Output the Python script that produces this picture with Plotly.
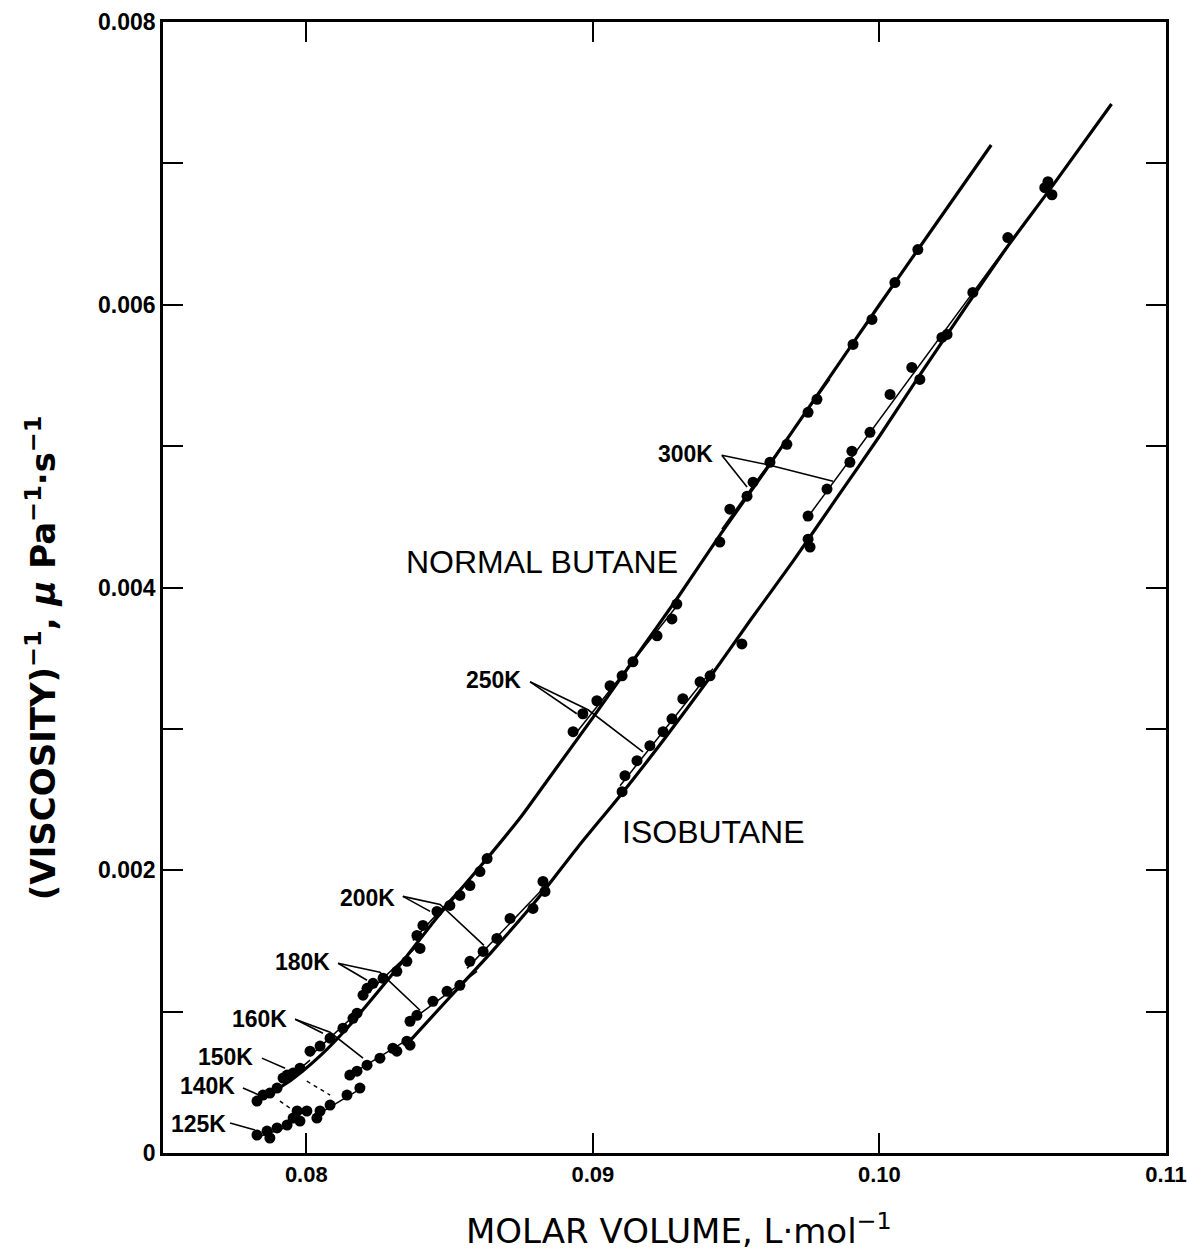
import plotly.graph_objects as go

# ---------------- data ----------------
# smooth correlation curves (molar volume L/mol, inverse viscosity 1/(uPa s))
nb_curve_vol = [0.0785, 0.0795, 0.0805, 0.0815, 0.0825, 0.0835, 0.0845, 0.0855, 0.0865,
                0.0875, 0.0885, 0.0900, 0.0915, 0.0930, 0.0945, 0.0960, 0.0980, 0.1000,
                0.1020, 0.1039]
nb_curve_fl = [0.00039, 0.00052, 0.00069, 0.00090, 0.00114, 0.00139, 0.00165, 0.00189, 0.00213,
               0.00238, 0.00266, 0.00308, 0.00351, 0.00394, 0.00439, 0.00482, 0.00541, 0.00600,
               0.00658, 0.00713]

ib_curve_vol = [0.0836, 0.0850, 0.0865, 0.0880, 0.0895, 0.0910, 0.0925, 0.0940, 0.0955,
                0.0970, 0.0985, 0.1000, 0.1015, 0.1030, 0.1045, 0.1060, 0.1081]
ib_curve_fl = [0.00079, 0.00110, 0.00143, 0.00178, 0.00217, 0.00254, 0.00293, 0.00334, 0.00377,
               0.00419, 0.00463, 0.00507, 0.00553, 0.00598, 0.00642, 0.00683, 0.00742]

# measured points, normal butane
nb_pt_temp = (["140K"] * 4 + ["150K"] * 4 + ["160K"] * 6 + ["180K"] * 7 + ["200K"] * 8
              + ["250K"] * 9 + ["300K"] * 12)
nb_pt_vol = [0.07828, 0.07849, 0.07873, 0.07898,
             0.07919, 0.07933, 0.07954, 0.07978,
             0.08013, 0.08048, 0.08083, 0.08128, 0.08163, 0.08177,
             0.08198, 0.08212, 0.08233, 0.08268, 0.08316, 0.08351, 0.08397,
             0.08386, 0.08407, 0.08456, 0.08501, 0.08536, 0.08571, 0.08606, 0.08631,
             0.08931, 0.08965, 0.09014, 0.09060, 0.09102, 0.09140, 0.09224, 0.09276, 0.09293,
             0.09443, 0.09478, 0.09538, 0.09559, 0.09618, 0.09677, 0.09751, 0.09782, 0.09908,
             0.09974, 0.10054, 0.10134]
nb_pt_fl = [0.000367, 0.000410, 0.000424, 0.000459,
            0.000530, 0.000551, 0.000565, 0.000600,
            0.000720, 0.000756, 0.000812, 0.000883, 0.000953, 0.000989,
            0.001116, 0.001165, 0.001200, 0.001236, 0.001285, 0.001356, 0.001447,
            0.001539, 0.001610, 0.001709, 0.001751, 0.001822, 0.001892, 0.001991, 0.002083,
            0.002980, 0.003107, 0.003199, 0.003305, 0.003375, 0.003474, 0.003658, 0.003778, 0.003883,
            0.004321, 0.004554, 0.004646, 0.004745, 0.004886, 0.005013, 0.005239, 0.005331, 0.005719,
            0.005896, 0.006157, 0.006390]

# measured points, isobutane
ib_pt_temp = (["125K"] * 5 + ["140K"] * 4 + ["150K"] * 5 + ["160K"] * 8 + ["180K"] * 5
              + ["200K"] * 7 + ["250K"] * 9 + ["300K"] * 18)
ib_pt_vol = [0.07828, 0.07863, 0.07873, 0.07898, 0.07933,
             0.07954, 0.07968, 0.07978, 0.08002,
             0.08037, 0.08048, 0.08083, 0.08142, 0.08187,
             0.08152, 0.08177, 0.08212, 0.08257, 0.08302, 0.08316, 0.08351, 0.08362,
             0.08362, 0.08386, 0.08442, 0.08491, 0.08536,
             0.08571, 0.08617, 0.08665, 0.08711, 0.08791, 0.08826, 0.08833,
             0.09102, 0.09112, 0.09154, 0.09199, 0.09245, 0.09276, 0.09314, 0.09374, 0.09409,
             0.09520, 0.09751, 0.09758, 0.09751, 0.09817, 0.09897, 0.09904, 0.09967, 0.10037,
             0.10113, 0.10141, 0.10236, 0.10218, 0.10326, 0.10448, 0.10577, 0.10588, 0.10602]
ib_pt_fl = [0.000127, 0.000155, 0.000106, 0.000177, 0.000198,
            0.000247, 0.000297, 0.000226, 0.000297,
            0.000247, 0.000297, 0.000339, 0.000410, 0.000459,
            0.000551, 0.000579, 0.000621, 0.000671, 0.000741, 0.000720, 0.000791, 0.000763,
            0.000932, 0.000974, 0.001073, 0.001144, 0.001186,
            0.001356, 0.001426, 0.001518, 0.001659, 0.001730, 0.001921, 0.001850,
            0.002556, 0.002669, 0.002775, 0.002881, 0.002980, 0.003071, 0.003213, 0.003333, 0.003375,
            0.003601, 0.004342, 0.004286, 0.004505, 0.004696, 0.004886, 0.004964, 0.005098, 0.005366,
            0.005557, 0.005472, 0.005790, 0.005769, 0.006087, 0.006475, 0.006828, 0.006870, 0.006778]

# thin isotherm segments (start / end)
nb_iso_temp = ["150K", "160K", "180K", "200K", "250K", "300K"]
nb_iso_vol0 = [0.07919, 0.08013, 0.08194, 0.08372, 0.08931, 0.09450]
nb_iso_vol1 = [0.08013, 0.08187, 0.08397, 0.08641, 0.09304, 0.09827]
nb_iso_fl0 = [0.000494, 0.000685, 0.001094, 0.001504, 0.002944, 0.004413]
nb_iso_fl1 = [0.000657, 0.001010, 0.001483, 0.002097, 0.003898, 0.005472]

ib_iso_temp = ["125K", "140K", "150K", "160K", "180K", "200K", "250K", "300K"]
ib_iso_vol0 = [0.07821, 0.07943, 0.08030, 0.08135, 0.08362, 0.08561, 0.09095, 0.09740]
ib_iso_vol1 = [0.07943, 0.08013, 0.08205, 0.08362, 0.08596, 0.08833, 0.09419, 0.10462]
ib_iso_fl0 = [0.000106, 0.000233, 0.000261, 0.000530, 0.000932, 0.001306, 0.002598, 0.004470]
ib_iso_fl1 = [0.000191, 0.000318, 0.000473, 0.000812, 0.001285, 0.001885, 0.003425, 0.006461]

# axis ticks
x_tick_vals = [0.08, 0.09, 0.10, 0.11]
x_tick_text = ["0.08", "0.09", "0.10", "0.11"]
y_tick_vals = [0, 0.001, 0.002, 0.003, 0.004, 0.005, 0.006, 0.007, 0.008]
y_tick_text = ["0", "", "0.002", "", "0.004", "", "0.006", "", "0.008"]

# ---------------- figure ----------------
FONT = "Liberation Sans"
WIDE = "DejaVu Sans"
fig = go.Figure()


def seg_xy(v0, v1, f0, f1):
    xs, ys = [], []
    for a, b, c, d in zip(v0, v1, f0, f1):
        xs += [a, b, None]
        ys += [c, d, None]
    return xs, ys


for v0, v1, f0, f1 in [(nb_iso_vol0, nb_iso_vol1, nb_iso_fl0, nb_iso_fl1),
                       (ib_iso_vol0, ib_iso_vol1, ib_iso_fl0, ib_iso_fl1)]:
    xs, ys = seg_xy(v0, v1, f0, f1)
    fig.add_trace(go.Scatter(x=xs, y=ys, mode="lines",
                             line=dict(color="black", width=1.5),
                             showlegend=False, hoverinfo="skip"))

fig.add_trace(go.Scatter(x=nb_curve_vol, y=nb_curve_fl, mode="lines", name="Normal butane",
                         line=dict(color="black", width=3.2, shape="spline", smoothing=0.6),
                         showlegend=False))
fig.add_trace(go.Scatter(x=ib_curve_vol, y=ib_curve_fl, mode="lines", name="Isobutane",
                         line=dict(color="black", width=3.2, shape="spline", smoothing=0.6),
                         showlegend=False))

fig.add_trace(go.Scatter(x=nb_pt_vol, y=nb_pt_fl, mode="markers", text=nb_pt_temp,
                         marker=dict(color="black", size=11), showlegend=False))
fig.add_trace(go.Scatter(x=ib_pt_vol, y=ib_pt_fl, mode="markers", text=ib_pt_temp,
                         marker=dict(color="black", size=11), showlegend=False))

# leader lines for the temperature labels
leaders = [
    ([0.09450, 0.09538], [0.004936, 0.004710]),
    ([0.09450, 0.09618, 0.09838], [0.004936, 0.004865, 0.004752]),
    ([0.08781, 0.08944], [0.003333, 0.003107]),
    ([0.08781, 0.08983, 0.09175], [0.003333, 0.003135, 0.002838]),
    ([0.08337, 0.08432], [0.001815, 0.001709]),
    ([0.08337, 0.08467, 0.08620], [0.001815, 0.001758, 0.001469]),
    ([0.08111, 0.08212], [0.001342, 0.001222]),
    ([0.08111, 0.08257, 0.08397], [0.001342, 0.001278, 0.001010]),
    ([0.07961, 0.08058], [0.000946, 0.000847]),
    ([0.07961, 0.08083, 0.08198], [0.000946, 0.000854, 0.000671]),
    ([0.07845, 0.07926], [0.000671, 0.000600]),
    ([0.07779, 0.07845], [0.000459, 0.000402]),
    ([0.07734, 0.07821], [0.000212, 0.000162]),
]
for lx, ly in leaders:
    fig.add_trace(go.Scatter(x=lx, y=ly, mode="lines", line=dict(color="black", width=1.6),
                             showlegend=False, hoverinfo="skip"))
for lx, ly in [([0.08002, 0.08083], [0.000508, 0.000410]),
               ([0.07908, 0.07978], [0.000367, 0.000268])]:
    fig.add_trace(go.Scatter(x=lx, y=ly, mode="lines",
                             line=dict(color="black", width=1.4, dash="4px,4px"),
                             showlegend=False, hoverinfo="skip"))

labels = [
    ("300K", 0.09426, 0.004943),
    ("250K", 0.08757, 0.003347),
    ("200K", 0.08316, 0.001801),
    ("180K", 0.08090, 0.001349),
    ("160K", 0.07939, 0.000946),
    ("150K", 0.07821, 0.000678),
    ("140K", 0.07758, 0.000473),
    ("125K", 0.07727, 0.000205),
]
for t, x, y in labels:
    fig.add_annotation(x=x, y=y, text=t, showarrow=False, xanchor="right", yanchor="middle",
                       font=dict(family=FONT, size=23, color="black", weight="bold"))

fig.add_annotation(x=0.09304, y=0.00418, text="NORMAL BUTANE", showarrow=False,
                   xanchor="right", yanchor="middle",
                   font=dict(family=FONT, size=32, color="black"))
fig.add_annotation(x=0.09095, y=0.002274, text="ISOBUTANE", showarrow=False,
                   xanchor="left", yanchor="middle",
                   font=dict(family=FONT, size=32, color="black"))

# axis titles
fig.add_annotation(x=0.0930, xref="x", y=0, yref="paper", yshift=-76, yanchor="middle",
                   xanchor="center", showarrow=False,
                   text="MOLAR VOLUME, L·mol<sup>−1</sup>",
                   font=dict(family=WIDE, size=34, color="black"))
fig.add_annotation(x=0, xref="paper", xshift=-122, y=0.0035, yref="y", xanchor="center",
                   yanchor="middle", textangle=-90, showarrow=False,
                   text="(VISCOSITY)<sup>−1</sup>, <i>μ</i> Pa<sup>−1</sup>·s<sup>−1</sup>",
                   font=dict(family=WIDE, size=34, color="black", weight="bold"))

tickfont = dict(family=FONT, size=22, color="black", weight="bold")
fig.update_xaxes(range=[0.075, 0.11], showline=True, linecolor="black", linewidth=2.5,
                 mirror="ticks", ticks="inside", ticklen=20, tickwidth=2, tickcolor="black",
                 tickvals=x_tick_vals, ticktext=x_tick_text, showgrid=False, zeroline=False,
                 automargin=False, ticklabeloverflow="allow", tickfont=tickfont)
fig.update_yaxes(range=[0, 0.008], showline=True, linecolor="black", linewidth=2.5,
                 mirror="ticks", ticks="inside", ticklen=20, tickwidth=2, tickcolor="black",
                 tickvals=y_tick_vals, ticktext=y_tick_text, showgrid=False, zeroline=False,
                 automargin=False, ticklabeloverflow="allow", tickfont=dict(tickfont, size=23))

fig.update_layout(width=1187, height=1253, margin=dict(l=163, r=21, t=22, b=100),
                  plot_bgcolor="white", paper_bgcolor="white", showlegend=False)

fig.write_html("out.html")
